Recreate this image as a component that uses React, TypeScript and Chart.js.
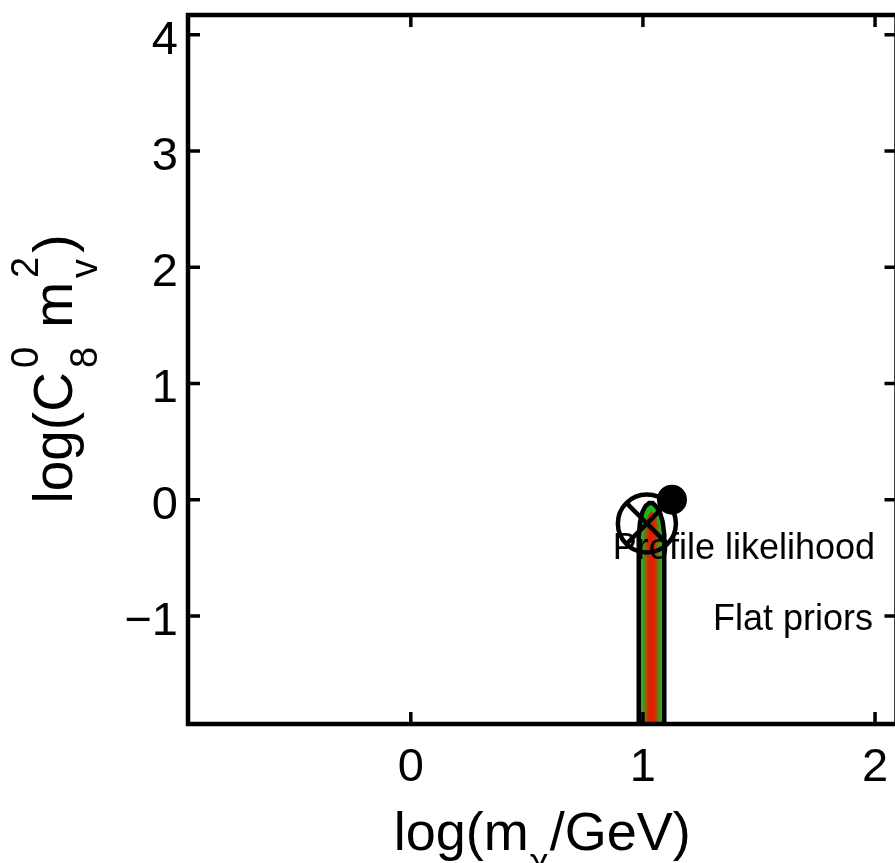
import React, { useEffect, useRef } from "react";
import { Chart, registerables } from "chart.js";

Chart.register(...registerables);

// ---- data ----
const X_TICKS = [0, 1, 2];
const Y_TICKS = [-1, 0, 1, 2, 3, 4];
const X_MIN = -0.96;
const X_MAX = 2.086;
const Y_MIN = -1.93;
const Y_MAX = 4.17;

// outer contour (green region with black outline)
const OUTER_X = [0.982, 0.982, 0.987, 0.997, 1.011, 1.027, 1.042, 1.058, 1.073, 1.085, 1.092, 1.092];
const OUTER_Y = [-2.2, -0.32, -0.2, -0.11, -0.055, -0.028, -0.028, -0.06, -0.11, -0.19, -0.3, -2.2];
// inner contour (red core)
const INNER_X = [0.996, 0.996, 1.006, 1.02, 1.037, 1.055, 1.069, 1.078, 1.078];
const INNER_Y = [-2.2, -0.35, -0.22, -0.14, -0.1, -0.14, -0.22, -0.35, -2.2];

// best-fit points
const PROFILE_BEST_X = [1.017];
const PROFILE_BEST_Y = [-0.205];
const FLAT_BEST_X = [1.125];
const FLAT_BEST_Y = [0.0];

const LEGEND_LABELS = ["Profile likelihood", "Flat priors"];

const FONT = "'Liberation Sans', Arial, Helvetica, sans-serif";
const GREEN = "#1fb41f";
const RED = "#e41c00";

const toPts = (xs: number[], ys: number[]) => xs.map((x, i) => ({ x, y: ys[i] }));

type Part = { t?: string; sub?: string; sup?: string };

function drawRich(
  ctx: CanvasRenderingContext2D,
  parts: Part[],
  main: number,
  small: number,
  subDy: number,
  supDy: number,
  gap: number
) {
  const widths = parts.map((p) => {
    if (p.t !== undefined) {
      ctx.font = `${main}px ${FONT}`;
      return ctx.measureText(p.t).width;
    }
    ctx.font = `${small}px ${FONT}`;
    const a = p.sub ? ctx.measureText(p.sub).width : 0;
    const b = p.sup ? ctx.measureText(p.sup).width : 0;
    return Math.max(a, b) + gap;
  });
  const total = widths.reduce((s, w) => s + w, 0);
  let x = -total / 2;
  ctx.textAlign = "left";
  ctx.textBaseline = "alphabetic";
  parts.forEach((p, i) => {
    if (p.t !== undefined) {
      ctx.font = `${main}px ${FONT}`;
      ctx.fillText(p.t, x, 0);
    } else {
      ctx.font = `${small}px ${FONT}`;
      if (p.sub) ctx.fillText(p.sub, x + gap / 2, subDy);
      if (p.sup) ctx.fillText(p.sup, x + gap / 2, supDy);
    }
    x += widths[i];
  });
}

const framePlugin = {
  id: "matlabFrame",
  afterDraw(chart: any) {
    const { ctx, chartArea: a, scales } = chart;
    const xs = scales.x;
    const ys = scales.y;
    const L = a.left;
    const T = a.top;
    const R = a.right + 1.5;
    const B = a.bottom;
    const TICK = 12;
    ctx.save();
    ctx.strokeStyle = "#000";
    ctx.lineWidth = 4.5;
    ctx.lineJoin = "miter";
    ctx.strokeRect(L, T, R - L, B - T);
    ctx.lineWidth = 3.5;
    ctx.beginPath();
    X_TICKS.forEach((v) => {
      const px = xs.getPixelForValue(v);
      ctx.moveTo(px, B);
      ctx.lineTo(px, B - TICK);
      ctx.moveTo(px, T);
      ctx.lineTo(px, T + TICK);
    });
    Y_TICKS.forEach((v) => {
      const py = ys.getPixelForValue(v);
      ctx.moveTo(L, py);
      ctx.lineTo(L + TICK, py);
      ctx.moveTo(R, py);
      ctx.lineTo(R - TICK, py);
    });
    ctx.stroke();

    ctx.fillStyle = "#000";
    ctx.font = `47px ${FONT}`;
    ctx.textBaseline = "alphabetic";
    ctx.textAlign = "center";
    X_TICKS.forEach((v) => {
      ctx.fillText(String(v), xs.getPixelForValue(v), B + 57);
    });
    ctx.textAlign = "right";
    Y_TICKS.forEach((v) => {
      const s = v < 0 ? "\u2212" + Math.abs(v) : String(v);
      ctx.fillText(s, L - 10, ys.getPixelForValue(v) + 19);
    });

    ctx.font = `36px ${FONT}`;
    ctx.textAlign = "right";
    ctx.fillText(LEGEND_LABELS[0], 875, 559);
    ctx.fillText(LEGEND_LABELS[1], 873, 630);

    ctx.save();
    ctx.translate((L + R) / 2, 850);
    drawRich(ctx, [{ t: "log(m" }, { sub: "\u03c7" }, { t: "/GeV)" }], 54, 36, 24, -33, 2);
    ctx.restore();

    ctx.save();
    ctx.translate(72, 369);
    ctx.rotate(-Math.PI / 2);
    drawRich(
      ctx,
      [{ t: "log(C" }, { sub: "8", sup: "0" }, { t: " m" }, { sub: "v", sup: "2" }, { t: ")" }],
      55,
      38,
      25,
      -34,
      8
    );
    ctx.restore();

    ctx.restore();
  },
};

export default function App() {
  const ref = useRef<HTMLCanvasElement>(null);

  useEffect(() => {
    const canvas = ref.current;
    if (!canvas) return;
    const innerGradient = (c: any) => {
      const chart = c.chart;
      const { ctx, chartArea, scales } = chart;
      if (!chartArea || !scales.x) return GREEN;
      const x0 = scales.x.getPixelForValue(INNER_X[0]);
      const x1 = scales.x.getPixelForValue(INNER_X[INNER_X.length - 1]);
      const g = ctx.createLinearGradient(x0, 0, x1, 0);
      g.addColorStop(0, GREEN);
      g.addColorStop(0.38, RED);
      g.addColorStop(0.62, RED);
      g.addColorStop(1, GREEN);
      return g;
    };
    const chart = new Chart(canvas, {
      type: "scatter",
      data: {
        datasets: [
          {
            label: "outer",
            data: toPts(OUTER_X, OUTER_Y),
            showLine: true,
            fill: "shape",
            backgroundColor: GREEN,
            borderColor: "#000",
            borderWidth: 4.5,
            pointRadius: 0,
            tension: 0,
            order: 5,
          } as any,
          {
            label: "inner",
            data: toPts(INNER_X, INNER_Y),
            showLine: true,
            fill: "shape",
            backgroundColor: innerGradient,
            borderColor: "rgba(0,0,0,0)",
            borderWidth: 0,
            pointRadius: 0,
            tension: 0,
            order: 4,
          } as any,
          {
            label: LEGEND_LABELS[0],
            data: toPts(PROFILE_BEST_X, PROFILE_BEST_Y),
            pointStyle: "circle",
            pointRadius: 29,
            pointBorderWidth: 4.5,
            pointBorderColor: "#000",
            pointBackgroundColor: "rgba(0,0,0,0)",
            order: 3,
          },
          {
            label: LEGEND_LABELS[0] + " x",
            data: toPts(PROFILE_BEST_X, PROFILE_BEST_Y),
            pointStyle: "crossRot",
            pointRadius: 28,
            pointBorderWidth: 4.5,
            pointBorderColor: "#000",
            pointBackgroundColor: "rgba(0,0,0,0)",
            order: 2,
          },
          {
            label: LEGEND_LABELS[1],
            data: toPts(FLAT_BEST_X, FLAT_BEST_Y),
            pointStyle: "circle",
            pointRadius: 15,
            pointBorderWidth: 0,
            pointBackgroundColor: "#000",
            pointBorderColor: "#000",
            order: 1,
          },
        ],
      },
      options: {
        animation: false,
        responsive: false,
        devicePixelRatio: 1,
        layout: { autoPadding: false, padding: { left: 188, top: 15, right: 0, bottom: 139 } },
        plugins: { legend: { display: false }, tooltip: { enabled: false } },
        events: [],
        scales: {
          x: { type: "linear", min: X_MIN, max: X_MAX, display: false },
          y: { type: "linear", min: Y_MIN, max: Y_MAX, display: false },
        },
      },
      plugins: [framePlugin],
    });
    return () => chart.destroy();
  }, []);

  return (
    <div
      style={{
        position: "absolute",
        left: 0,
        top: 0,
        width: 895,
        height: 863,
        overflow: "hidden",
        background: "#fff",
      }}
    >
      <canvas ref={ref} width={895} height={863} style={{ display: "block" }} />
    </div>
  );
}
